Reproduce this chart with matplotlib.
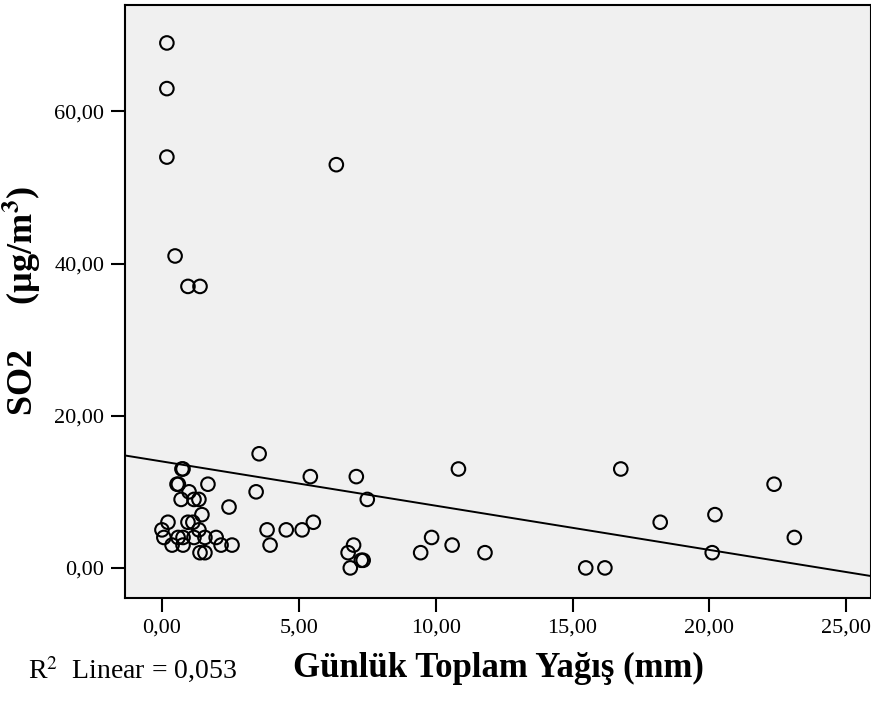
import numpy as np
import matplotlib
matplotlib.use("Agg")
import matplotlib.pyplot as plt
from matplotlib.ticker import FuncFormatter

# Günlük toplam yağış (mm) ve SO2 (µg/m3) okumaları
yagis = [
    0.18, 0.18, 0.18, 0.48, 0.95, 1.39, 6.37,
    3.55, 0.73, 0.77, 0.55, 0.60, 1.68, 0.99, 3.44,
    0.70, 1.17, 1.35, 2.45, 1.46, 0.22, 0.95, 1.13,
    0.00, 1.35, 3.84, 4.54, 5.12, 5.53, 0.07, 0.59,
    0.77, 1.17, 1.57, 1.98, 0.37, 0.77, 2.16, 2.56,
    3.95, 1.39, 1.57, 5.42, 7.10, 7.50, 7.00, 6.80,
    7.28, 7.35, 6.88, 9.85, 9.45, 10.60, 10.83, 11.80,
    15.48, 16.18, 16.76, 18.20, 20.20, 20.10, 22.36, 23.10,
]
so2 = [
    69.0, 63.0, 54.0, 41.0, 37.0, 37.0, 53.0,
    15.0, 13.0, 13.0, 11.0, 11.0, 11.0, 10.0, 10.0,
    9.0, 9.0, 9.0, 8.0, 7.0, 6.0, 6.0, 6.0,
    5.0, 5.0, 5.0, 5.0, 5.0, 6.0, 4.0, 4.0,
    4.0, 4.0, 4.0, 4.0, 3.0, 3.0, 3.0, 3.0,
    3.0, 2.0, 2.0, 12.0, 12.0, 9.0, 3.0, 2.0,
    1.0, 1.0, 0.0, 4.0, 2.0, 3.0, 13.0, 2.0,
    0.0, 0.0, 13.0, 6.0, 7.0, 2.0, 11.0, 4.0,
]

x_ticks = [0, 5, 10, 15, 20, 25]
y_ticks = [0, 20, 40, 60]
r2_text = "R$^2$  Linear = 0,053"

plt.rcParams["font.family"] = ["Liberation Serif", "DejaVu Serif"]
plt.rcParams["mathtext.fontset"] = "stix"

fig = plt.figure(figsize=(8.71, 7.01), dpi=100)
ax = fig.add_axes([0.1435, 0.147, 0.8565, 0.846])
ax.set_facecolor("#F0F0F0")

x = np.array(yagis)
y = np.array(so2)
ax.scatter(x, y, s=95, facecolors="none", edgecolors="black",
           linewidths=1.5, zorder=3)

xlim = (-1.35, 25.9)
ax.set_xlim(*xlim)
ax.set_ylim(-3.95, 74.0)

# doğrusal uyum çizgisi
slope, intercept = np.polyfit(x, y, 1)
xs = np.array(xlim)
ax.plot(xs, intercept + slope * xs, color="black", linewidth=1.4, zorder=2)

fmt = FuncFormatter(lambda v, _: f"{v:.2f}".replace(".", ","))
ax.set_xticks(x_ticks)
ax.set_yticks(y_ticks)
ax.xaxis.set_major_formatter(fmt)
ax.yaxis.set_major_formatter(fmt)
ax.tick_params(direction="out", length=10, width=1.5, labelsize=16,
               pad=5)

for s in ax.spines.values():
    s.set_linewidth(1.5)

ax.set_xlabel("Günlük Toplam Yağış (mm)", fontsize=25,
              fontweight="bold", labelpad=10)
ax.set_ylabel("SO2     (µg/m$^\\mathbf{3}$)", fontsize=26,
              fontweight="bold", labelpad=8)

fig.text(0.032, 0.044, r2_text, fontsize=20, ha="left", va="center")

fig.savefig("out.png", dpi=100)
